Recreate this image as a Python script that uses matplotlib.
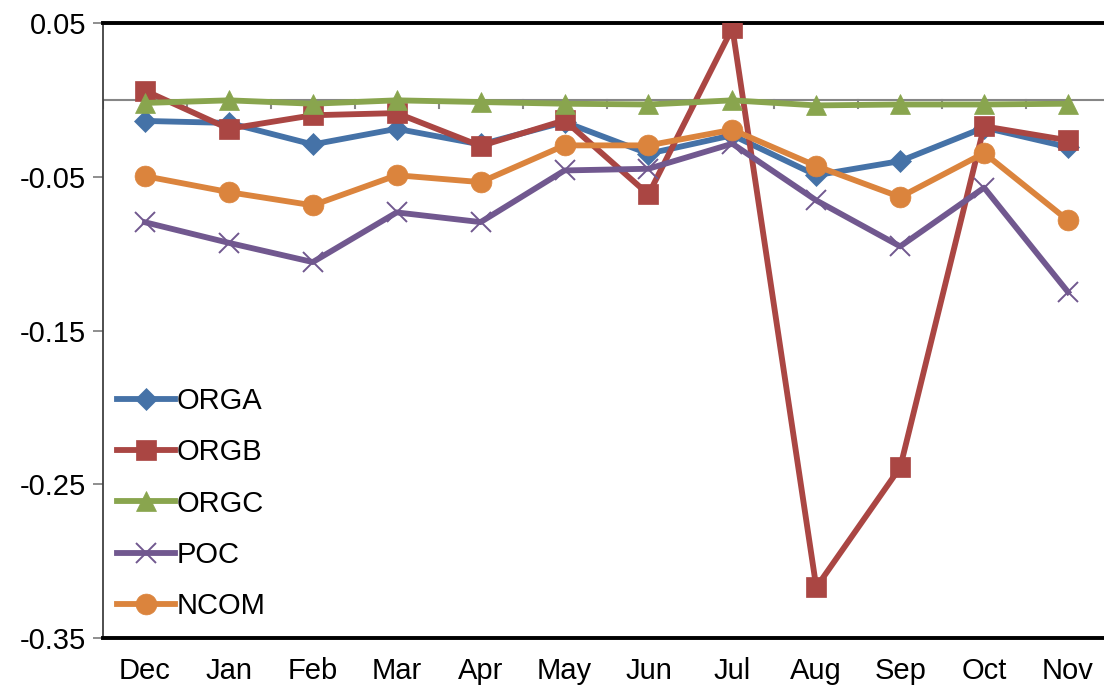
import numpy as np
import matplotlib
matplotlib.use("Agg")
import matplotlib.pyplot as plt

plt.rcParams['font.family'] = ['Liberation Sans', 'DejaVu Sans']

# monthly values for each fraction
months = ["Dec", "Jan", "Feb", "Mar", "Apr", "May", "Jun", "Jul", "Aug", "Sep", "Oct", "Nov"]
orga = [-0.0137, -0.015, -0.029, -0.0188, -0.029, -0.0144, -0.035, -0.023, -0.049, -0.0398, -0.018, -0.0307]
orgb = [0.006, -0.0188, -0.010, -0.0086, -0.030, -0.0133, -0.0615, 0.0467, -0.317, -0.239, -0.0172, -0.0263]
orgc = [-0.002, -0.0003, -0.0025, -0.0003, -0.0014, -0.0025, -0.003, -0.0003, -0.0036, -0.003, -0.003, -0.0025]
poc = [-0.0796, -0.093, -0.1055, -0.0732, -0.0795, -0.0459, -0.0448, -0.0285, -0.0654, -0.0953, -0.0571, -0.125]
ncom = [-0.0496, -0.060, -0.0686, -0.049, -0.0535, -0.0296, -0.0296, -0.0194, -0.043, -0.0632, -0.0346, -0.0784]

yticks = [0.05, -0.05, -0.15, -0.25, -0.35]

W, H = 1104, 689
fig = plt.figure(figsize=(W / 100, H / 100), dpi=100)
# plot area runs a bit past the right edge of the figure
left, right, top, bottom = 103, 1110, 23, 638
ax = fig.add_axes([left / W, 1 - bottom / H, (right - left) / W, (bottom - top) / H])

x = np.arange(len(months))

# zero line with small category-boundary ticks
ax.axhline(0, color='#868686', lw=1.5, zorder=1)
for b in np.arange(len(months) + 1) - 0.5:
    ax.plot([b, b], [0, -0.005], color='#868686', lw=1.5, zorder=1)

series = [
    ("ORGA", orga, '#4572A7', 'D', 11),
    ("ORGB", orgb, '#AA4643', 's', 14),
    ("ORGC", orgc, '#89A54E', '^', 15),
    ("POC", poc, '#71588F', 'x', 14),
    ("NCOM", ncom, '#DB843D', 'o', 15),
]
for name, vals, col, mk, ms in series:
    ax.plot(x, vals, color=col, lw=4.2, marker=mk, markersize=ms,
            markerfacecolor=col, markeredgecolor=col,
            markeredgewidth=1.4 if mk == 'x' else 0.5,
            label=name, zorder=3, solid_joinstyle='round')

ax.set_xlim(-0.5, len(months) - 0.5)
ax.set_ylim(-0.35, 0.05)

ax.set_xticks(x)
ax.set_xticklabels(months)
ax.tick_params(axis='x', length=0, pad=14, labelsize=21)

ax.set_yticks(yticks)
ax.set_yticklabels([f"{v:.2f}" for v in yticks])
ax.tick_params(axis='y', length=7, width=1.3, color='#868686', pad=5, labelsize=21)

for s in ['top', 'bottom']:
    ax.spines[s].set_linewidth(2.8)
    ax.spines[s].set_color('black')
ax.spines['left'].set_linewidth(1.3)
ax.spines['left'].set_color('#404040')
ax.spines['right'].set_visible(False)

ax.legend(loc='center left', bbox_to_anchor=(14 / (right - left), (bottom - 503.5) / (bottom - top)),
          frameon=False, fontsize=21, borderpad=0, borderaxespad=0,
          handlelength=2.0, handletextpad=0.05, labelspacing=0.8)

fig.savefig("out.png", dpi=100)
